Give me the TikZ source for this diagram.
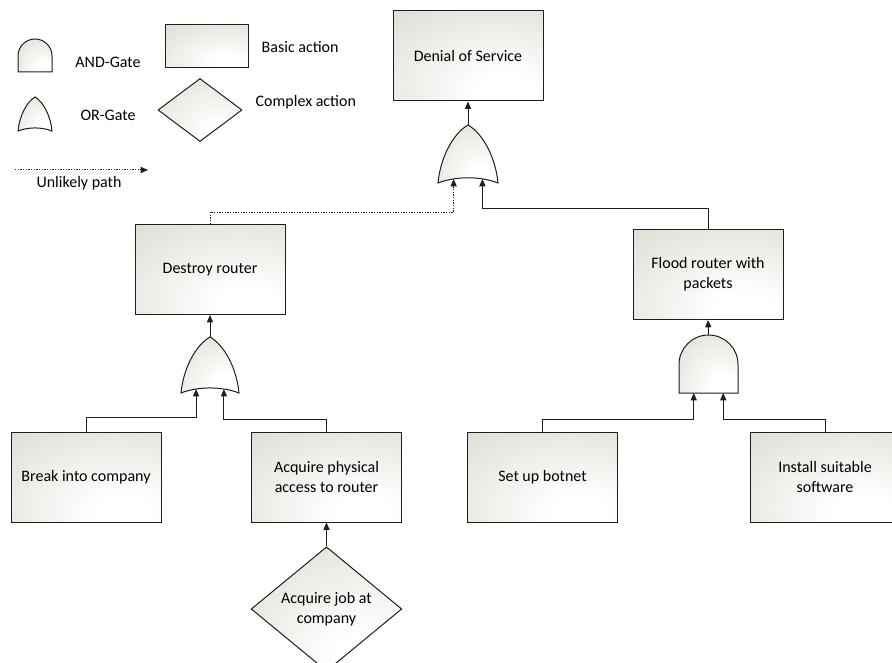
\documentclass[tikz,border=0pt]{standalone}
\usepackage{fontspec}
\setmainfont{Carlito}
\usetikzlibrary{shapes.geometric,arrows.meta,calc}

\definecolor{linecol}{RGB}{30,30,30}
\definecolor{boxgray}{RGB}{214,219,207}

% soft off-centre radial fill used by every box, diamond and gate
\pgfdeclareradialshading{softfill}{\pgfpoint{14bp}{-22bp}}{%
  color(0bp)=(white); color(10bp)=(white); color(55bp)=(boxgray); color(100bp)=(boxgray)}

\tikzset{
  x=0.75pt, y=0.75pt,
  every node/.style={font=\fontsize{12}{15}\selectfont, text=black},
  filled/.style={shading=softfill, draw=linecol, line width=0.75pt},
  basic/.style={filled, rectangle, minimum width=112.5pt, minimum height=67.5pt,
    inner sep=2pt, align=center},
  complexact/.style={filled, diamond, minimum width=113pt, minimum height=82pt,
    inner sep=0pt, align=center},
  conn/.style={draw=linecol, line width=0.75pt},
  arr/.style={conn, -{Triangle[length=5.5pt,width=4.6pt]}},
  unlikely/.style={arr, dash pattern=on 1pt off 1pt},
  label/.style={anchor=center},
  % OR gate: pointed arch with a concave base; origin at the base centre
  pics/orgate/.style args={#1/#2}{code={
    \shade[filled] (-#1/2,0) .. controls (-0.46*#1,0.45*#2) and (-0.24*#1,0.86*#2) .. (0,#2)
      .. controls (0.24*#1,0.86*#2) and (0.46*#1,0.45*#2) .. (#1/2,0)
      .. controls (0.2*#1,0.12*#2) and (-0.2*#1,0.12*#2) .. cycle;
    \coordinate (-top) at (0,#2);
    \coordinate (-in1) at (-0.24*#1,0.07*#2);
    \coordinate (-in2) at (0.24*#1,0.07*#2);
  }},
  % AND gate: rounded dome on a flat base; origin at the base centre
  pics/andgate/.style args={#1/#2}{code={
    \shade[filled] (-#1/2,0) -- (-#1/2,#2-#1/2)
      arc[start angle=180, end angle=0, radius={#1*0.375pt}] -- (#1/2,0) -- cycle;
    \coordinate (-top) at (0,#2);
    \coordinate (-in1) at (-0.25*#1,0);
    \coordinate (-in2) at (0.25*#1,0);
  }},
}

\begin{document}
\begin{tikzpicture}
\useasboundingbox (0,0) rectangle (892,-663);

% ---- legend ----
\pic (legand) at (35,-72) {andgate=34/33};
\node[label] (andtxt) at (108,-62) {AND-Gate};
\pic (legor) at (35,-131) {orgate=34/34};
\node[label] (ortxt) at (108,-115) {OR-Gate};
\node[filled, rectangle, minimum width=62.25pt, minimum height=32.25pt, inner sep=0pt]
  (legbasic) at (206.5,-46.5) {};
\node[anchor=west] (basictxt) at (257,-47) {Basic action};
\node[filled, diamond, minimum width=63pt, minimum height=47.25pt, inner sep=0pt]
  (legcomplex) at (200,-110) {};
\node[anchor=west] (complextxt) at (251,-102) {Complex action};
\coordinate (unlA) at (15,-170);
\coordinate (unlB) at (148,-170);
\draw[unlikely] (unlA) -- (unlB);
\node[label] (unltxt) at (79,-183) {Unlikely path};

% ---- tree ----
\node[basic] (dos) at (468,-56) {Denial of Service};
\pic (g1) at (468,-183) {orgate=60/58};

\node[basic] (destroy) at (210,-269.5) {Destroy router};
\pic (g2) at (210,-393) {orgate=58/56};

\node[basic] (flood) at (708,-274.5) {Flood router with\\packets};
\pic (g3) at (708.5,-393) {andgate=59/58};

\node[basic] (breakin) at (86,-477) {Break into company};
\node[basic] (access) at (326.5,-477) {Acquire physical\\access to router};
\node[basic] (botnet) at (542.5,-477) {Set up botnet};
\node[basic] (install) at (825,-477) {Install suitable\\software};

\node[complexact] (job) at (326.5,-609) {Acquire job at\\company};

% ---- connectors ----
\draw[arr] (g1-top) -- (dos.south);
\draw[unlikely] (destroy.north) -- ++(0,12) -| (g1-in1);
\draw[arr] (flood.north) -- ++(0,21) -| (g1-in2);

\draw[arr] (g2-top) -- (destroy.south);
\draw[arr] (breakin.north) -- ++(0,14) -| (g2-in1);
\draw[arr] (access.north) -- ++(0,12) -| (g2-in2);

\draw[arr] (g3-top) -- (flood.south);
\draw[arr] (botnet.north) -- ++(0,12) -| (g3-in1);
\draw[arr] (install.north) -- ++(0,12) -| (g3-in2);

\draw[arr] (job.north) -- (access.south);
\end{tikzpicture}
\end{document}
